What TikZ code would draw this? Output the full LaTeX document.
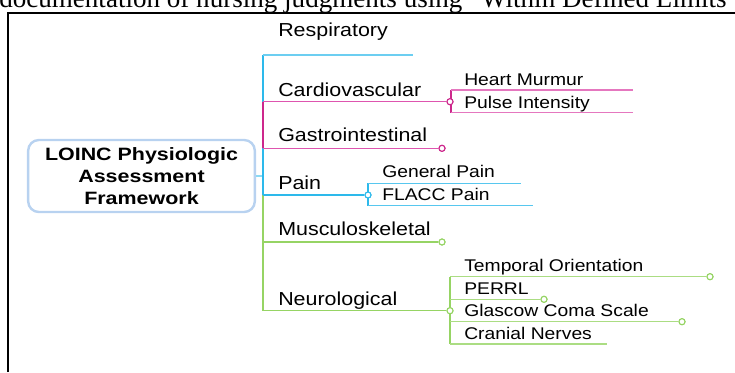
\documentclass[tikz,border=0pt]{standalone}
\usepackage{fontspec}
\usepackage{xcolor}
\usepackage{tikz}
\usetikzlibrary{positioning}

\newfontfamily\mapfont{Liberation Sans}[FakeStretch=1.14]
\newfontfamily\rootfont{Liberation Sans}[FakeStretch=1.2]
\newfontfamily\capfont{Liberation Serif}

\definecolor{mapblue}{RGB}{45,185,235}
\definecolor{mappink}{RGB}{222,85,175}
\definecolor{mapmagenta}{RGB}{205,40,140}
\definecolor{mapgreen}{RGB}{150,212,100}
\definecolor{rootline}{RGB}{184,210,240}

\begin{document}
\begin{tikzpicture}[
  x=0.75pt, y=-0.75pt,
  topic/.style={anchor=base west, inner sep=0pt, font=\mapfont\fontsize{14.1}{16}\selectfont},
  subtopic/.style={anchor=base west, inner sep=0pt, font=\mapfont\fontsize{12.7}{14}\selectfont},
  root/.style={draw=rootline, line width=1.8pt, rounded corners=8pt, fill=white,
               align=center, minimum width=170pt, minimum height=54pt,
               font=\rootfont\bfseries\fontsize{13.4}{16.3}\selectfont},
  trunk/.style={line width=1.5pt, draw=#1},
  branch/.style={line width=1.1pt, draw=#1},
  twig/.style={line width=1pt, draw=#1!80},
  knob/.style={circle, draw=#1, fill=white, line width=0.8pt, inner sep=0pt, minimum size=4.5pt}
]
  \useasboundingbox (0,0) rectangle (735,372);
  \clip (0,0) rectangle (735,372);

  % Frame and cut caption
  \node[anchor=base west, inner sep=0pt, font=\capfont\fontsize{20.3}{24}\selectfont]
    (caption) at (-1,7.5) {documentation of nursing judgments using “Within Defined Limits”};
  \draw[line width=1.5pt] (8,372) -- (8,13) -- (735,13);

  % Nodes
  \node[root] (root) at (141.5,176) {LOINC Physiologic\\Assessment\\Framework};

  \node[topic] (resp-txt)   at (278,36)    {Respiratory};
  \node[topic] (cardio-txt) at (278,96)    {Cardiovascular};
  \node[topic] (gastro-txt) at (278,141.7) {Gastrointestinal};
  \node[topic] (pain-txt)   at (278,189)   {Pain};
  \node[topic] (musc-txt)   at (278,235)   {Musculoskeletal};
  \node[topic] (neuro-txt)  at (278,305)   {Neurological};

  \node[subtopic] (heart-txt)    at (464,85)    {Heart Murmur};
  \node[subtopic] (pulse-txt)    at (464,108.3) {Pulse Intensity};
  \node[subtopic] (general-txt)  at (382,177.7) {General Pain};
  \node[subtopic] (flacc-txt)    at (382,200.7) {FLACC Pain};
  \node[subtopic] (temporal-txt) at (464,271.7) {Temporal Orientation};
  \node[subtopic] (perrl-txt)    at (464,294)   {PERRL};
  \node[subtopic] (glascow-txt)  at (464,316.7) {Glascow Coma Scale};
  \node[subtopic] (cranial-txt)  at (464,339)   {Cranial Nerves};

  % Junctions on the trunk
  \coordinate (hub)    at (263,176);
  \coordinate (resp)   at (263,55);
  \coordinate (cardio) at (263,101.7);
  \coordinate (gastro) at (263,148.3);
  \coordinate (pain)   at (263,195);
  \coordinate (musc)   at (263,242);
  \coordinate (neuro)  at (263,310.7);

  % Branch ends
  \coordinate (resp-end) at (413,55);
  \node[knob=mapmagenta] (cardio-knob) at (450,101.7) {};
  \node[knob=mapmagenta] (gastro-knob) at (442,148.3) {};
  \node[knob=mapblue]    (pain-knob)   at (368,195)   {};
  \node[knob=mapgreen]   (musc-knob)   at (442,242)   {};
  \node[knob=mapgreen]   (neuro-knob)  at (450,310.7) {};

  % Sub-branch points
  \coordinate (heart)       at (451,90);
  \coordinate (pulse)       at (451,112.7);
  \coordinate (heart-end)   at (633,90);
  \coordinate (pulse-end)   at (633,112.7);
  \coordinate (general)     at (368,183.3);
  \coordinate (flacc)       at (368,205.7);
  \coordinate (general-end) at (521,183.3);
  \coordinate (flacc-end)   at (533,205.7);
  \coordinate (temporal)    at (450,276.7);
  \coordinate (perrl)       at (450,299.3);
  \coordinate (glascow)     at (450,321.7);
  \coordinate (cranial)     at (450,344);
  \coordinate (cranial-end) at (607,344);
  \node[knob=mapgreen] (temporal-knob) at (710,276.7) {};
  \node[knob=mapgreen] (perrl-knob)    at (544,299.3) {};
  \node[knob=mapgreen] (glascow-knob)  at (682,321.7) {};

  % Lines
  \draw[branch=mapblue!55] (root.east) -- (hub);
  \draw[trunk=mapblue] (resp) -- (cardio);
  \draw[trunk=mapmagenta] (cardio) -- (gastro);
  \draw[trunk=mapblue] (gastro) -- (pain);
  \draw[trunk=mapgreen] (pain) -- (neuro);

  \draw[branch=mapblue!70] (resp) -- (resp-end);
  \draw[branch=mappink] (cardio) -- (cardio-knob);
  \draw[branch=mappink] (gastro) -- (gastro-knob);
  \draw[branch=mapblue] (pain) -- (pain-knob);
  \draw[branch=mapgreen] (musc) -- (musc-knob);
  \draw[branch=mapgreen] (neuro) -- (neuro-knob);

  \draw[trunk=mapmagenta] (heart) -- (pulse);
  \draw[twig=mappink] (heart) -- (heart-end);
  \draw[twig=mappink] (pulse) -- (pulse-end);

  \draw[trunk=mapblue] (general) -- (flacc);
  \draw[twig=mapblue] (general) -- (general-end);
  \draw[twig=mapblue] (flacc) -- (flacc-end);

  \draw[trunk=mapgreen] (temporal) -- (cranial);
  \draw[twig=mapgreen] (temporal) -- (temporal-knob);
  \draw[twig=mapgreen] (perrl) -- (perrl-knob);
  \draw[twig=mapgreen] (glascow) -- (glascow-knob);
  \draw[twig=mapgreen] (cranial) -- (cranial-end);

  % Knobs on top
  \foreach \k/\c in {cardio/mapmagenta, gastro/mapmagenta, pain/mapblue, musc/mapgreen,
                     neuro/mapgreen, temporal/mapgreen, perrl/mapgreen, glascow/mapgreen}
    \node[knob=\c] at (\k-knob) {};
\end{tikzpicture}
\end{document}
